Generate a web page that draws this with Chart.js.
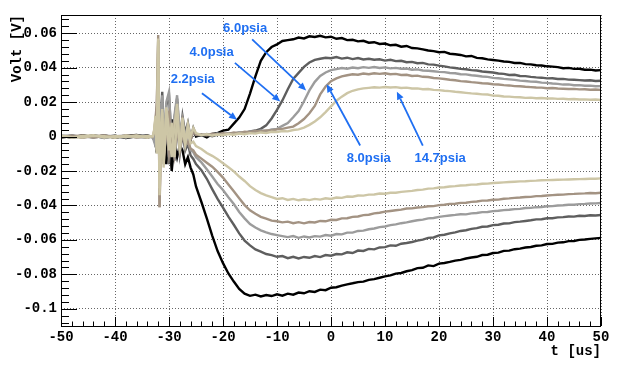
<!DOCTYPE html>
<html>
<head>
<meta charset="utf-8">
<script src="https://cdn.jsdelivr.net/npm/chart.js@4"></script>
<style>
  body { margin: 0; background: #fff; }
  canvas { display: block; }
</style>
</head>
<body>
<canvas id="scope" width="623" height="370"></canvas>
<script>
// time base in microseconds (finer steps through the discharge ringing)
const timeUs = [
  -50, -48, -46, -44, -42, -40, -38, -36, -34, -33,
  -32.75, -32.5, -32.25, -32, -31.75, -31.5, -31.25, -31, -30.5, -30,
  -29.5, -29, -28.5, -28, -27.5, -27, -26.5, -26, -25.5, -25,
  -24, -23, -22, -21, -20, -19, -18, -17, -16, -15,
  -14, -13, -12, -11, -10, -9, -8, -7, -6, -5,
  -4, -3, -2, -1, 0, 1, 2, 3, 4, 5,
  6, 7, 8, 9, 10, 11, 12, 13, 14, 15,
  16, 17, 18, 19, 20, 21, 22, 23, 24, 25,
  26, 27, 28, 29, 30, 31, 32, 33, 34, 35,
  36, 37, 38, 39, 40, 41, 42, 43, 44, 45,
  46, 47, 48, 49, 50
];

// positive channel, volts
const pos22 = [
  0.0004, -0.0006, 0.0008, -0.0003, 0.0006, -0.0007, 0.0003, 0.0009, -0.0004, 0.0002,
  0.001, -0.004, 0.006, 0.010, -0.012, 0.008, 0.018, -0.010, 0.012, -0.014,
  0.010, -0.008, 0.012, -0.006, 0.008, -0.004, 0.006, -0.002, 0.004, 0.000,
  0.001, -0.0005, 0.0015, 0.002, 0.0035, 0.004, 0.0075, 0.011, 0.016, 0.025,
  0.035, 0.044, 0.049, 0.052, 0.0535, 0.0555, 0.056, 0.0565, 0.0575, 0.057,
  0.0582, 0.0578, 0.0585, 0.0576, 0.058, 0.0568, 0.0572, 0.056, 0.0562, 0.0553,
  0.0556, 0.0545, 0.0548, 0.0538, 0.054, 0.053, 0.0533, 0.0522, 0.0526, 0.0514,
  0.0512, 0.0506, 0.05, 0.0496, 0.049, 0.0492, 0.0481, 0.0478, 0.0474, 0.0466,
  0.0468, 0.0457, 0.0455, 0.0448, 0.0445, 0.0441, 0.0436, 0.0434, 0.0427, 0.0428,
  0.0421, 0.0419, 0.0414, 0.0413, 0.0408, 0.0406, 0.0403, 0.0397, 0.0399, 0.0393,
  0.0394, 0.0388, 0.0389, 0.0384, 0.0386
];
const pos40 = [
  -0.0005, 0.0007, -0.0002, 0.0006, -0.0008, 0.0004, -0.0003, 0.0005, 0.0002, -0.0004,
  0.002, 0.006, -0.006, 0.014, -0.016, 0.012, 0.026, -0.006, 0.018, 0.024,
  -0.004, 0.010, 0.022, -0.002, 0.012, 0.002, 0.008, -0.001, 0.005, 0.001,
  0.0005, 0.001, 0.0002, 0.0012, 0.0008, 0.0018, 0.0015, 0.0022, 0.002, 0.003,
  0.0035, 0.0045, 0.0065, 0.0105, 0.0155, 0.021, 0.0275, 0.0335, 0.037, 0.0405,
  0.043, 0.0445, 0.0452, 0.0458, 0.0455, 0.0462, 0.0453, 0.0458, 0.045, 0.0456,
  0.0448, 0.0452, 0.0446, 0.0449, 0.0441, 0.0446, 0.0438, 0.044, 0.0432, 0.0434,
  0.0426, 0.0428, 0.0419, 0.0418, 0.0412, 0.0408, 0.0402, 0.0398, 0.0393, 0.0391,
  0.0386, 0.0384, 0.0378, 0.0375, 0.0372, 0.0366, 0.0364, 0.0358, 0.0359, 0.0352,
  0.0351, 0.0347, 0.0344, 0.0342, 0.0338, 0.0339, 0.0334, 0.0335, 0.0331, 0.033,
  0.0328, 0.0326, 0.0327, 0.0323, 0.0324
];
const pos60 = [
  0.0006, -0.0004, 0.0003, -0.0007, 0.0005, 0.0002, -0.0006, 0.0004, -0.0002, 0.0003,
  -0.002, 0.004, -0.008, 0.018, -0.020, 0.015, 0.022, -0.008, 0.020, 0.026,
  -0.006, 0.012, 0.024, 0.000, 0.010, -0.001, 0.007, 0.000, 0.004, 0.0015,
  0.001, 0.0015, 0.0008, 0.0018, 0.0012, 0.002, 0.0017, 0.0025, 0.0022, 0.003,
  0.0028, 0.0035, 0.0032, 0.0042, 0.0045, 0.0062, 0.0078, 0.0112, 0.0148, 0.0205,
  0.0268, 0.0318, 0.0352, 0.0372, 0.0386, 0.0392, 0.0398, 0.0394, 0.0401, 0.0397,
  0.0403, 0.0399, 0.0404, 0.0398, 0.0402, 0.0396, 0.0399, 0.0394, 0.0395, 0.0388,
  0.039, 0.0384, 0.0382, 0.0379, 0.0376, 0.0374, 0.0369, 0.0368, 0.0362, 0.0361,
  0.0356, 0.0353, 0.0349, 0.0347, 0.0341, 0.0339, 0.0335, 0.0332, 0.0329, 0.0325,
  0.0323, 0.0319, 0.0318, 0.0313, 0.0312, 0.0308, 0.0306, 0.0302, 0.0303, 0.0298,
  0.0299, 0.0295, 0.0296, 0.0292, 0.0293
];
const pos80 = [
  -0.0003, 0.0005, -0.0006, 0.0002, 0.0007, -0.0004, 0.0006, -0.0005, 0.0003, -0.0002,
  0.003, 0.010, 0.020, 0.059, -0.041, 0.006, 0.012, -0.012, 0.010, 0.014,
  -0.010, 0.008, 0.014, -0.006, 0.008, -0.003, 0.005, -0.002, 0.003, 0.001,
  0.0012, 0.0008, 0.0016, 0.0012, 0.002, 0.0016, 0.0024, 0.002, 0.0028, 0.0025,
  0.0032, 0.003, 0.0036, 0.0035, 0.0042, 0.0045, 0.0052, 0.0058, 0.0078, 0.0102,
  0.0135, 0.0178, 0.0245, 0.029, 0.0322, 0.0338, 0.035, 0.0356, 0.0362, 0.0359,
  0.0366, 0.0362, 0.0368, 0.0364, 0.0368, 0.0362, 0.0364, 0.0358, 0.0359, 0.0352,
  0.0354, 0.0347, 0.0346, 0.034, 0.0338, 0.0334, 0.033, 0.0327, 0.0322, 0.032,
  0.0316, 0.0313, 0.031, 0.0308, 0.0304, 0.0302, 0.0299, 0.0297, 0.0293, 0.0292,
  0.0289, 0.0287, 0.0285, 0.0284, 0.0281, 0.0282, 0.0279, 0.0278, 0.0276, 0.0277,
  0.0274, 0.0275, 0.0272, 0.0273, 0.0271
];
const pos147 = [
  0.0002, -0.0005, 0.0004, 0.0008, -0.0006, 0.0003, -0.0002, 0.0006, -0.0007, 0.0004,
  0.004, 0.012, -0.010, 0.057, -0.030, 0.004, 0.016, -0.014, 0.017, 0.004,
  -0.012, 0.006, 0.019, -0.008, 0.011, -0.004, 0.007, 0.000, 0.005, 0.002,
  0.0008, 0.0014, 0.0006, 0.0012, 0.0009, 0.0015, 0.0011, 0.0018, 0.0014, 0.002,
  0.0017, 0.0024, 0.002, 0.0028, 0.0026, 0.0032, 0.003, 0.0038, 0.0042, 0.0052,
  0.0068, 0.0088, 0.0112, 0.0142, 0.0175, 0.0208, 0.0232, 0.0252, 0.0266, 0.0274,
  0.028, 0.0283, 0.0286, 0.0284, 0.0288, 0.0285, 0.0287, 0.0282, 0.0284, 0.0279,
  0.028, 0.0275, 0.0276, 0.0271, 0.027, 0.0266, 0.0264, 0.026, 0.0257, 0.0254,
  0.0251, 0.0249, 0.0245, 0.0244, 0.0238, 0.0237, 0.0233, 0.0232, 0.0229, 0.0228,
  0.0225, 0.0226, 0.0223, 0.0224, 0.0221, 0.0222, 0.0219, 0.022, 0.0217, 0.0218,
  0.0215, 0.0216, 0.0214, 0.0215, 0.0212
];

// negative channel, volts
const neg22 = [
  -0.0006, 0.0003, -0.0004, 0.0007, -0.0002, 0.0005, -0.0008, 0.0001, 0.0006, -0.0003,
  -0.002, 0.003, -0.006, 0.008, -0.010, 0.006, -0.014, 0.010, -0.016, 0.004,
  -0.020, -0.004, -0.012, -0.005, -0.008, -0.016, -0.012, -0.018, -0.022, -0.029,
  -0.038, -0.0475, -0.0575, -0.0665, -0.0735, -0.0795, -0.0842, -0.0885, -0.0912, -0.0925,
  -0.0918, -0.0928, -0.092, -0.0926, -0.0916, -0.0924, -0.0912, -0.0918, -0.0906, -0.091,
  -0.0898, -0.0902, -0.0889, -0.0892, -0.0878, -0.0875, -0.0866, -0.0858, -0.0852, -0.0845,
  -0.0842, -0.0832, -0.0828, -0.082, -0.0812, -0.0806, -0.0796, -0.0792, -0.0782, -0.0776,
  -0.0764, -0.0762, -0.0748, -0.0752, -0.0738, -0.0734, -0.0728, -0.072, -0.0716, -0.0708,
  -0.0702, -0.0698, -0.0688, -0.0686, -0.0676, -0.0674, -0.0664, -0.0662, -0.0654, -0.0651,
  -0.0644, -0.0641, -0.0634, -0.0632, -0.0624, -0.0623, -0.0616, -0.0614, -0.0607, -0.0606,
  -0.06, -0.0598, -0.0594, -0.0591, -0.0588
];
const neg40 = [
  0.0004, -0.0007, 0.0002, -0.0003, 0.0006, -0.0005, 0.0007, -0.0002, -0.0006, 0.0002,
  0.001, -0.004, 0.005, 0.012, -0.018, -0.008, 0.020, -0.012, 0.014, -0.016,
  0.006, -0.014, 0.008, -0.010, 0.002, -0.008, -0.004, -0.011, -0.013, -0.016,
  -0.0195, -0.0245, -0.0305, -0.0362, -0.0412, -0.0465, -0.0512, -0.0562, -0.0604, -0.0632,
  -0.0655, -0.0668, -0.0682, -0.0688, -0.0698, -0.0694, -0.0706, -0.0698, -0.0708, -0.0699,
  -0.0704, -0.0694, -0.07, -0.0688, -0.0692, -0.0682, -0.0684, -0.0672, -0.0676, -0.0662,
  -0.0664, -0.0652, -0.0655, -0.0644, -0.0642, -0.0632, -0.0634, -0.0622, -0.0618, -0.0612,
  -0.0604, -0.0598, -0.0588, -0.0586, -0.0574, -0.057, -0.0562, -0.0556, -0.0548, -0.0544,
  -0.0536, -0.0532, -0.0524, -0.0522, -0.0514, -0.0512, -0.0505, -0.0504, -0.0497, -0.0494,
  -0.049, -0.0486, -0.0481, -0.048, -0.0474, -0.0474, -0.0469, -0.0468, -0.0464, -0.0465,
  -0.046, -0.0461, -0.0457, -0.0458, -0.0455
];
const neg60 = [
  0.0003, 0.0006, -0.0005, 0.0004, -0.0007, 0.0002, 0.0005, -0.0004, 0.0001, -0.0005,
  -0.003, 0.005, -0.007, 0.016, -0.021, 0.010, 0.024, -0.014, 0.016, -0.012,
  0.004, -0.012, 0.010, -0.008, 0.004, -0.006, -0.002, -0.008, -0.009, -0.012,
  -0.015, -0.019, -0.0232, -0.0275, -0.031, -0.0352, -0.0392, -0.0438, -0.0475, -0.0508,
  -0.0528, -0.0545, -0.0556, -0.0566, -0.0572, -0.0578, -0.0584, -0.0578, -0.0588, -0.058,
  -0.0586, -0.0578, -0.0581, -0.0572, -0.0576, -0.0566, -0.0568, -0.0558, -0.0558, -0.0548,
  -0.0546, -0.0538, -0.0534, -0.0526, -0.0522, -0.0514, -0.051, -0.0503, -0.0498, -0.0492,
  -0.0486, -0.0482, -0.0475, -0.0473, -0.0466, -0.0462, -0.0458, -0.0455, -0.0451, -0.0452,
  -0.0446, -0.0444, -0.0439, -0.0438, -0.0433, -0.0431, -0.0427, -0.0425, -0.0421, -0.042,
  -0.0415, -0.0414, -0.041, -0.0409, -0.0405, -0.0404, -0.04, -0.0399, -0.0396, -0.0396,
  -0.0392, -0.0391, -0.0389, -0.0388, -0.0386
];
const neg80 = [
  -0.0004, 0.0002, 0.0006, -0.0006, 0.0003, -0.0002, 0.0004, 0.0007, -0.0005, 0.0003,
  0.002, 0.008, 0.018, 0.056, -0.041, -0.006, 0.010, -0.016, 0.008, -0.010,
  0.003, -0.010, 0.006, -0.008, 0.002, -0.005, -0.003, -0.007, -0.008, -0.0105,
  -0.0128, -0.0152, -0.0175, -0.0205, -0.0238, -0.0278, -0.0318, -0.0358, -0.0398, -0.0428,
  -0.0448, -0.0466, -0.0476, -0.0488, -0.0492, -0.0498, -0.0494, -0.0503, -0.0497, -0.0504,
  -0.0496, -0.0499, -0.049, -0.0492, -0.0483, -0.0484, -0.0475, -0.0474, -0.0466, -0.0464,
  -0.0456, -0.0454, -0.0446, -0.0442, -0.0436, -0.0432, -0.0428, -0.0424, -0.0418, -0.0417,
  -0.0412, -0.041, -0.0405, -0.0404, -0.0398, -0.0396, -0.0391, -0.039, -0.0385, -0.0384,
  -0.0379, -0.0377, -0.0372, -0.0371, -0.0367, -0.0366, -0.0361, -0.0359, -0.0356, -0.0354,
  -0.0351, -0.035, -0.0346, -0.0345, -0.0342, -0.034, -0.0338, -0.0337, -0.0334, -0.0333,
  -0.0331, -0.033, -0.0328, -0.0329, -0.0326
];
const neg147 = [
  0.0005, -0.0003, -0.0006, 0.0004, 0.0002, -0.0007, 0.0006, -0.0003, 0.0004, 0.0001,
  0.003, 0.011, -0.008, 0.055, -0.034, -0.010, 0.014, -0.018, 0.012, -0.008,
  0.008, -0.012, 0.012, -0.006, 0.004, -0.004, 0.002, -0.004, -0.003, -0.0055,
  -0.0072, -0.0095, -0.0112, -0.0132, -0.0155, -0.0178, -0.0202, -0.0232, -0.0258, -0.0288,
  -0.031, -0.0328, -0.0342, -0.0352, -0.0362, -0.0358, -0.0368, -0.0362, -0.037, -0.0364,
  -0.0369, -0.0362, -0.0366, -0.0358, -0.0362, -0.0354, -0.0356, -0.0348, -0.0349, -0.0342,
  -0.0343, -0.0337, -0.0336, -0.0331, -0.0332, -0.0326, -0.0326, -0.0321, -0.0318, -0.0315,
  -0.031, -0.0308, -0.0302, -0.0301, -0.0296, -0.0294, -0.029, -0.0288, -0.0284, -0.0283,
  -0.0279, -0.0278, -0.0274, -0.0273, -0.027, -0.0268, -0.0266, -0.0264, -0.0262, -0.026,
  -0.0259, -0.0257, -0.0256, -0.0254, -0.0253, -0.0252, -0.0251, -0.025, -0.0249, -0.0248,
  -0.0247, -0.0246, -0.0245, -0.0245, -0.0243
];

const xTickValues = [-50, -40, -30, -20, -10, 0, 10, 20, 30, 40, 50];
const xTickLabels = ['-50', '-40', '-30', '-20', '-10', '0', '10', '20', '30', '40', '50'];
const yTickValues = [-0.1, -0.08, -0.06, -0.04, -0.02, 0, 0.02, 0.04, 0.06];
const yTickLabels = ['-0.1', '-0.08', '-0.06', '-0.04', '-0.02', '0', '0.02', '0.04', '0.06'];

// pressure labels: text anchor and arrow tail/head in data units (us, V)
const notes = [
  { text: '6.0psia',  at: [-15.9, 0.0628], from: [-14.6, 0.0565], to: [-4.6, 0.0267] },
  { text: '4.0psia',  at: [-22.1, 0.0489], from: [-17.8, 0.0428], to: [-9.4, 0.0203] },
  { text: '2.2psia',  at: [-25.6, 0.0332], from: [-23.9, 0.0252], to: [-17.4, 0.0097] },
  { text: '8.0psia',  at: [7.0, -0.0129],  from: [5.4, -0.0052],  to: [-0.8, 0.0304] },
  { text: '14.7psia', at: [20.2, -0.0129], from: [17.0, -0.0052], to: [12.2, 0.0261] }
];

const monoFont = { family: '"Liberation Mono", "DejaVu Sans Mono", monospace', size: 14, weight: 'bold' };
const noteBlue = '#1f6ff2';

function trace(values, color) {
  return {
    data: timeUs.map((t, i) => ({ x: t, y: values[i] })),
    borderColor: color,
    borderWidth: 2.4,
    pointRadius: 0,
    tension: 0,
    fill: false
  };
}

// ROOT-like frame: inside ticks, box, axis titles and the blue callouts
const rootFrame = {
  id: 'rootFrame',
  afterDraw(chart) {
    const { ctx, chartArea: a, scales: { x, y } } = chart;
    ctx.save();
    ctx.strokeStyle = '#000';
    ctx.lineWidth = 1;
    ctx.strokeRect(a.left + 0.5, a.top + 0.5, a.right - a.left - 1, a.bottom - a.top);

    ctx.beginPath();
    for (let k = -25; k <= 25; k++) {
      const px = Math.round(x.getPixelForValue(k * 2)) + 0.5;
      const len = (k % 5 === 0) ? 9 : 4.5;
      ctx.moveTo(px, a.bottom);
      ctx.lineTo(px, a.bottom - len);
    }
    for (let k = -27; k <= 17; k++) {
      const py = Math.round(y.getPixelForValue(k * 0.004)) + 0.5;
      const len = (k % 5 === 0) ? 16 : 8;
      ctx.moveTo(a.left, py);
      ctx.lineTo(a.left + len, py);
    }
    ctx.stroke();

    ctx.fillStyle = '#000';
    ctx.font = 'bold 14px "Liberation Mono", "DejaVu Sans Mono", monospace';
    ctx.textAlign = 'right';
    ctx.textBaseline = 'middle';
    ctx.fillText('t [us]', a.right, a.bottom + 25);
    ctx.save();
    ctx.translate(17, a.top);
    ctx.rotate(-Math.PI / 2);
    ctx.fillText('Volt [V]', 0, 0);
    ctx.restore();

    ctx.strokeStyle = noteBlue;
    ctx.fillStyle = noteBlue;
    ctx.lineWidth = 1.8;
    ctx.font = 'bold 13px "Liberation Sans", Arial, sans-serif';
    ctx.textAlign = 'center';
    notes.forEach(n => {
      const x0 = x.getPixelForValue(n.from[0]), y0 = y.getPixelForValue(n.from[1]);
      const x1 = x.getPixelForValue(n.to[0]), y1 = y.getPixelForValue(n.to[1]);
      const ang = Math.atan2(y1 - y0, x1 - x0);
      const head = 8, half = 3.5;
      const bx = x1 - head * Math.cos(ang), by = y1 - head * Math.sin(ang);
      ctx.beginPath();
      ctx.moveTo(x0, y0);
      ctx.lineTo(bx, by);
      ctx.stroke();
      ctx.beginPath();
      ctx.moveTo(x1, y1);
      ctx.lineTo(bx + half * Math.sin(ang), by - half * Math.cos(ang));
      ctx.lineTo(bx - half * Math.sin(ang), by + half * Math.cos(ang));
      ctx.closePath();
      ctx.fill();
      ctx.fillText(n.text, x.getPixelForValue(n.at[0]), y.getPixelForValue(n.at[1]));
    });
    ctx.restore();
  }
};

new Chart(document.getElementById('scope'), {
  type: 'line',
  data: {
    // lighter traces first so they end up drawn on top
    datasets: [
      trace(pos147, '#cdc6a6'), trace(neg147, '#cdc6a6'),
      trace(pos80, '#a39383'), trace(neg80, '#a39383'),
      trace(pos60, '#9c9c9c'), trace(neg60, '#9c9c9c'),
      trace(pos40, '#5e5e5e'), trace(neg40, '#5e5e5e'),
      trace(pos22, '#000000'), trace(neg22, '#000000')
    ]
  },
  options: {
    responsive: false,
    animation: false,
    devicePixelRatio: 1,
    layout: { padding: { top: 15, right: 22, left: 0, bottom: 0 } },
    plugins: { legend: { display: false }, tooltip: { enabled: false } },
    scales: {
      x: {
        type: 'linear',
        min: -50,
        max: 50,
        afterBuildTicks: s => { s.ticks = xTickValues.map(v => ({ value: v })); },
        afterFit: s => { s.height = 44; },
        ticks: {
          callback: (v, i) => xTickLabels[i],
          font: monoFont,
          color: '#000',
          padding: 3,
          maxRotation: 0
        },
        grid: { color: '#666', lineWidth: 1, drawTicks: false },
        border: { display: false, dash: [1, 2] }
      },
      y: {
        type: 'linear',
        min: -0.11,
        max: 0.0706,
        afterBuildTicks: s => { s.ticks = yTickValues.map(v => ({ value: v })); },
        afterFit: s => { s.width = 61; },
        ticks: {
          callback: (v, i) => yTickLabels[i],
          font: monoFont,
          color: '#000',
          padding: 4
        },
        grid: { color: '#666', lineWidth: 1, drawTicks: false },
        border: { display: false, dash: [1, 2] }
      }
    }
  },
  plugins: [rootFrame]
});
</script>
</body>
</html>
